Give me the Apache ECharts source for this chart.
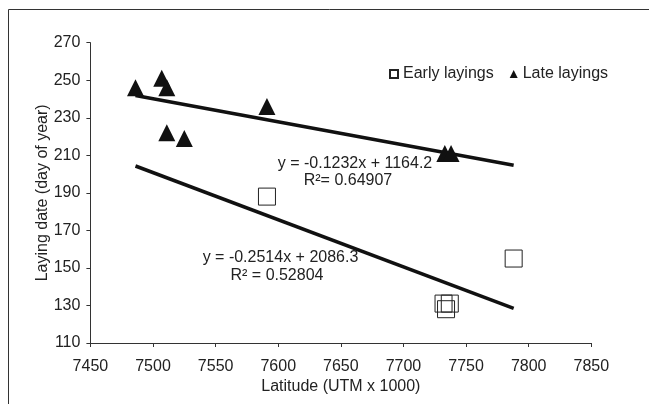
<!DOCTYPE html>
<html>
<head>
<meta charset="utf-8">
<script src="https://cdn.jsdelivr.net/npm/echarts@6/dist/echarts.min.js"></script>
<style>
html,body{margin:0;padding:0;background:#fff;}
#chart{width:649px;height:404px;}
</style>
</head>
<body>
<div id="chart"></div>
<script>
// Data
var earlyLayings = [[7591,188],[7788,155],[7732,131],[7737,131],[7734,128]];
var lateLayings = [[7486,246],[7507,251],[7511,246],[7511,222],[7525,219],[7591,236],[7733,211],[7738,211]];
// Trendline endpoints (from printed equations over data range)
var earlyTrend = [[7486,204.3],[7788,128.4]];
var lateTrend = [[7486,241.9],[7788,204.7]];
var xTicks = {min:7450, max:7850, interval:50};
var yTicks = {min:110, max:270, interval:20};
var annotations = [
  {text:'y = -0.1232x + 1164.2', at:[7661.3,205.5]},
  {text:'R\u00B2= 0.64907', at:[7655.7,196.4]},
  {text:'y = -0.2514x + 2086.3', at:[7601.8,155.3]},
  {text:'R\u00B2 = 0.52804', at:[7599,145.7]}
];

var FONT = '"Liberation Sans", Arial, sans-serif';
var TXT = '#222';
var chart = echarts.init(document.getElementById('chart'));
var option = {
  animation:false,
  backgroundColor:'#fff',
  grid:{left:90.4, right:57.7, top:42.7, bottom:61},
  legend:{
    left:384, top:61,
    itemWidth:8, itemHeight:8, itemGap:16,
    textStyle:{fontFamily:FONT, fontSize:16, color:TXT},
    data:['Early layings','Late layings']
  },
  xAxis:{
    type:'value', min:xTicks.min, max:xTicks.max, interval:xTicks.interval,
    name:'Latitude (UTM x 1000)', nameLocation:'middle', nameGap:36, nameMoveOverlap:false,
    nameTextStyle:{fontFamily:FONT, fontSize:16, color:TXT},
    axisLine:{show:true, onZero:false, lineStyle:{color:'#333', width:1}},
    axisTick:{show:true, inside:false, length:4, lineStyle:{color:'#333'}},
    axisLabel:{fontFamily:FONT, fontSize:16, color:TXT, margin:16,
      formatter:function(v){return String(v);}},
    splitLine:{show:false}
  },
  yAxis:{
    type:'value', min:yTicks.min, max:yTicks.max, interval:yTicks.interval,
    name:'Laying date (day of year)', nameLocation:'middle', nameGap:40, nameMoveOverlap:false,
    nameTextStyle:{fontFamily:FONT, fontSize:16, color:TXT},
    axisLine:{show:true, onZero:false, lineStyle:{color:'#333', width:1}},
    axisTick:{show:true, inside:false, length:4, lineStyle:{color:'#333'}},
    axisLabel:{fontFamily:FONT, fontSize:16, color:TXT, margin:10},
    splitLine:{show:false}
  },
  series:[
    {name:'Early layings', type:'scatter', symbol:'rect', symbolSize:17,
     itemStyle:{color:'rgba(0,0,0,0)', borderColor:'#222', borderWidth:1, opacity:1},
     data:earlyLayings, z:3},
    {name:'Late layings', type:'scatter', symbol:'triangle', symbolSize:17,
     itemStyle:{color:'#111', opacity:1},
     data:lateLayings, z:3},
    {name:'earlyTrend', type:'line', data:earlyTrend, symbol:'none',
     lineStyle:{color:'#111', width:3.5}, silent:true, z:2},
    {name:'lateTrend', type:'line', data:lateTrend, symbol:'none',
     lineStyle:{color:'#111', width:3.5}, silent:true, z:2}
  ]
};
chart.setOption(option);

var g = [{
  type:'rect', shape:{x:8.5, y:9.5, width:800, height:600},
  style:{fill:'none', stroke:'#333', lineWidth:1}, silent:true, z:-1
}];
annotations.forEach(function(a){
  var p = chart.convertToPixel({gridIndex:0}, a.at);
  g.push({type:'text', x:p[0], y:p[1], z:10,
    style:{text:a.text, fill:TXT, font:'16px '+FONT, align:'center', verticalAlign:'middle'}});
});
chart.setOption({graphic:g});
</script>
</body>
</html>
